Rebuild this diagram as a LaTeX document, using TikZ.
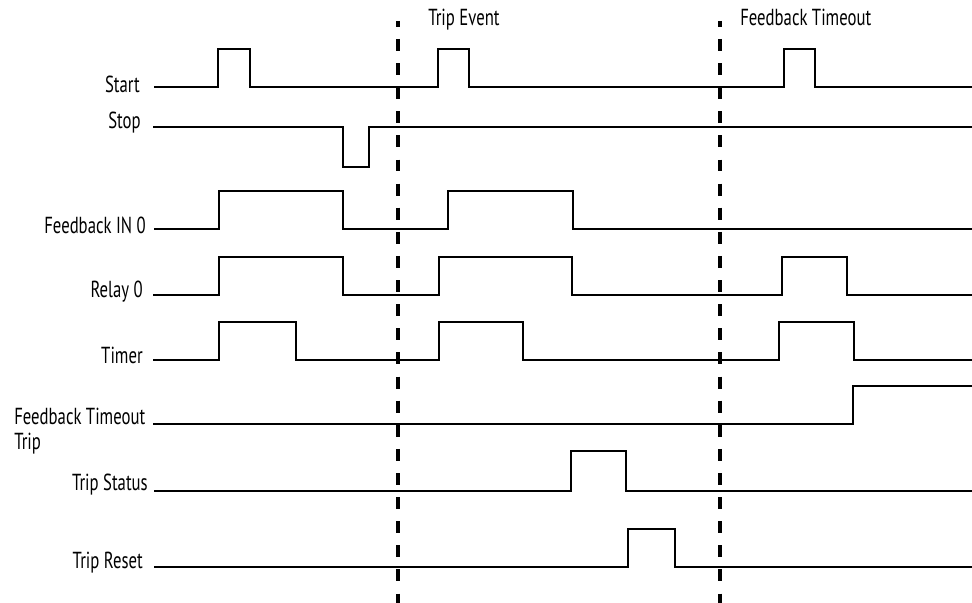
\documentclass[tikz,border=0pt]{standalone}
\usepackage{fontspec}
\setmainfont[FakeStretch=0.72]{PT Sans}
\usepackage{tikz}
\usetikzlibrary{positioning}
\tikzset{
	signal/.style={line width=1.85pt, line join=miter},
	event line/.style={line width=2.4pt, dash pattern=on 8.5pt off 8.65pt, dash phase=4.4pt},
	sig label/.style={inner sep=0pt, anchor=base east, font=\fontsize{16.5}{17.7}\selectfont},
	event label/.style={inner sep=0pt, anchor=base west, font=\fontsize{16.5}{17.7}\selectfont}
}

\begin{document}
\begin{tikzpicture}[x=0.025cm, y=-0.025cm]
        \useasboundingbox (0,0) rectangle (972,603);

        % ==================================================
        % 1. EVENT MARKERS
        % ==================================================
        \draw[event line] (398,21) -- (398,603);
        \node[event label] (tripevent) at (428,26) {Trip Event};

        \draw[event line] (720,21) -- (720,603);
        \node[event label] (fbevent) at (740,26) {Feedback Timeout};

        % ==================================================
        % 2. SIGNAL NAMES
        % ==================================================
        \node[sig label] (start)  at (140,93)  {Start};
        \node[sig label] (stop)   at (141,129) {Stop};
        \node[sig label] (fbin)   at (146,234) {Feedback IN 0};
        \node[sig label] (relay)  at (143,298) {Relay 0};
        \node[sig label] (timer)  at (143,363) {Timer};
        \node[sig label, anchor=north west, align=left] (fbtrip) at (14,408) {Feedback Timeout\\Trip};
        \node[sig label] (status) at (148,490) {Trip Status};
        \node[sig label] (reset)  at (143,568) {Trip Reset};

        % ==================================================
        % 3. WAVEFORMS
        % ==================================================
        % Start
        \draw[signal] (154,87) -| (218,49) -| (250,87) -| (438,49) -| (469,87)
                -| (784,49) -| (815,87) -- (972,87);
        % Stop
        \draw[signal] (153,127) -| (343,167) -| (369,127) -- (972,127);
        % Feedback IN 0
        \draw[signal] (154,229) -| (219,191) -| (343,229) -| (448,191) -| (573,229) -- (972,229);
        % Relay 0
        \draw[signal] (153,295) -| (219,257) -| (343,295) -| (439,257) -| (572,295)
                -| (782,257) -| (847,295) -- (972,295);
        % Timer
        \draw[signal] (153,360) -| (219,322) -| (296,360) -| (439,322) -| (523,360)
                -| (779,322) -| (854,360) -- (972,360);
        % Feedback Timeout Trip
        \draw[signal] (153,424) -| (853,386) -- (972,386);
        % Trip Status
        \draw[signal] (154,491) -| (571,451) -| (626,491) -- (972,491);
        % Trip Reset
        \draw[signal] (154,567) -| (628,529) -| (675,567) -- (972,567);

    \end{tikzpicture}
\end{document}
